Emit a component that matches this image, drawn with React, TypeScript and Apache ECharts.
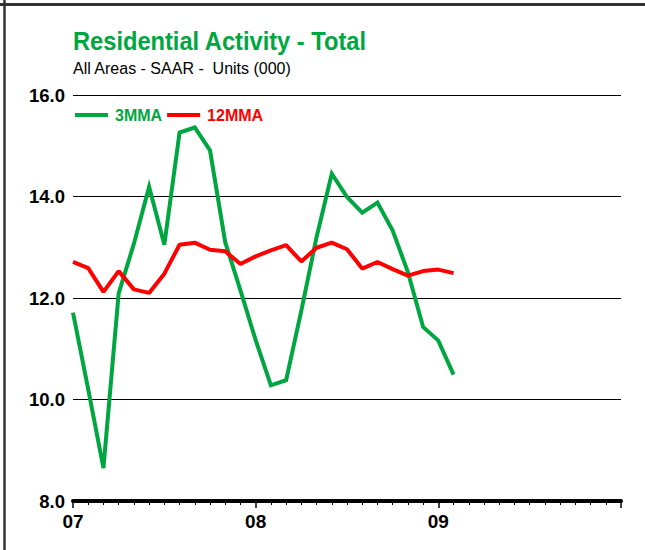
import React, { useEffect, useRef } from "react";
import * as echarts from "echarts";

const months: number[] = Array.from({ length: 26 }, (_, i) => i);
const mma3: number[] = [11.71, 10.2, 8.65, 12.09, 13.07, 14.19, 13.05, 15.26, 15.36, 14.91, 13.1, 12.15, 11.17, 10.28, 10.38, 11.75, 13.2, 14.45, 13.99, 13.68, 13.88, 13.33, 12.51, 11.43, 11.16, 10.49];
const mma12: number[] = [12.71, 12.59, 12.12, 12.53, 12.17, 12.1, 12.48, 13.05, 13.09, 12.95, 12.92, 12.67, 12.82, 12.94, 13.04, 12.72, 12.99, 13.09, 12.96, 12.58, 12.71, 12.57, 12.44, 12.53, 12.56, 12.49];
const xTickLabels: string[] = ["07", "08", "09", ""];
const seriesNames: string[] = ["3MMA", "12MMA"];

const GREEN = "#00a640";
const RED = "#ff0000";
const SANS = "'Liberation Sans', Arial, sans-serif";

export default function App() {
  const ref = useRef<HTMLDivElement>(null);
  useEffect(() => {
    if (!ref.current) return;
    const chart = echarts.init(ref.current, undefined, { renderer: "svg" });
    chart.setOption({
      animation: false,
      backgroundColor: "#ffffff",
      grid: { left: 73, right: 24, top: 95, bottom: 49, containLabel: false },
      legend: {
        left: 75,
        top: 107,
        icon: "rect",
        itemWidth: 33,
        itemHeight: 4,
        itemGap: 5,
        padding: 0,
        data: [
          { name: seriesNames[0], textStyle: { color: GREEN } },
          { name: seriesNames[1], textStyle: { color: RED } },
        ],
        textStyle: { fontFamily: SANS, fontWeight: "bold", fontSize: 16, padding: [0, 0, 0, 2] },
      },
      xAxis: {
        type: "value",
        min: 0,
        max: 36,
        interval: 12,
        axisLine: { show: true, lineStyle: { color: "#000", width: 4 } },
        axisTick: { show: true, length: 7, lineStyle: { color: "#000", width: 1.5 } },
        minorTick: { show: true, splitNumber: 12, length: 4, lineStyle: { color: "#000", width: 1 } },
        splitLine: { show: false },
        axisLabel: {
          margin: 11,
          fontFamily: SANS,
          fontWeight: "bold",
          fontSize: 19,
          color: "#000",
          formatter: (v: number) => xTickLabels[Math.round(v / 12)] ?? "",
        },
      },
      yAxis: {
        type: "value",
        min: 8,
        max: 16,
        interval: 2,
        axisLine: { show: false },
        axisTick: { show: false },
        splitLine: { show: true, lineStyle: { color: "#000", width: 1.2 } },
        axisLabel: {
          margin: 8,
          fontFamily: SANS,
          fontWeight: "bold",
          fontSize: 18.5,
          color: "#000",
          formatter: (v: number) => v.toFixed(1),
        },
      },
      series: [
        {
          name: seriesNames[0],
          type: "line",
          data: months.map((m, i) => [m, mma3[i]]),
          showSymbol: false,
          symbol: "none",
          lineStyle: { color: GREEN, width: 4, join: "miter" },
          itemStyle: { color: GREEN },
          z: 3,
        },
        {
          name: seriesNames[1],
          type: "line",
          data: months.map((m, i) => [m, mma12[i]]),
          showSymbol: false,
          symbol: "none",
          lineStyle: { color: RED, width: 4 },
          itemStyle: { color: RED },
          z: 4,
        },
      ],
      graphic: [
        { type: "line", shape: { x1: 0, y1: 4.5, x2: 645, y2: 4.5 }, style: { stroke: "#333", lineWidth: 3 } },
        { type: "line", shape: { x1: 4.5, y1: 0, x2: 4.5, y2: 550 }, style: { stroke: "#333", lineWidth: 2.5 } },
        {
          type: "text",
          x: 73,
          y: 28.5,
          scaleX: 0.91,
          originX: 0,
          originY: 0,
          style: { text: "Residential Activity - Total", fill: GREEN, font: `bold 26px ${SANS}`, verticalAlign: "top", align: "left" },
        },
        {
          type: "text",
          x: 73,
          y: 60.5,
          style: { text: "All Areas - SAAR -  Units (000)", fill: "#000", font: `16px ${SANS}`, verticalAlign: "top", align: "left" },
        },
      ],
    });
    return () => chart.dispose();
  }, []);
  return <div ref={ref} style={{ position: "fixed", left: 0, top: 0, width: 645, height: 550 }} />;
}
